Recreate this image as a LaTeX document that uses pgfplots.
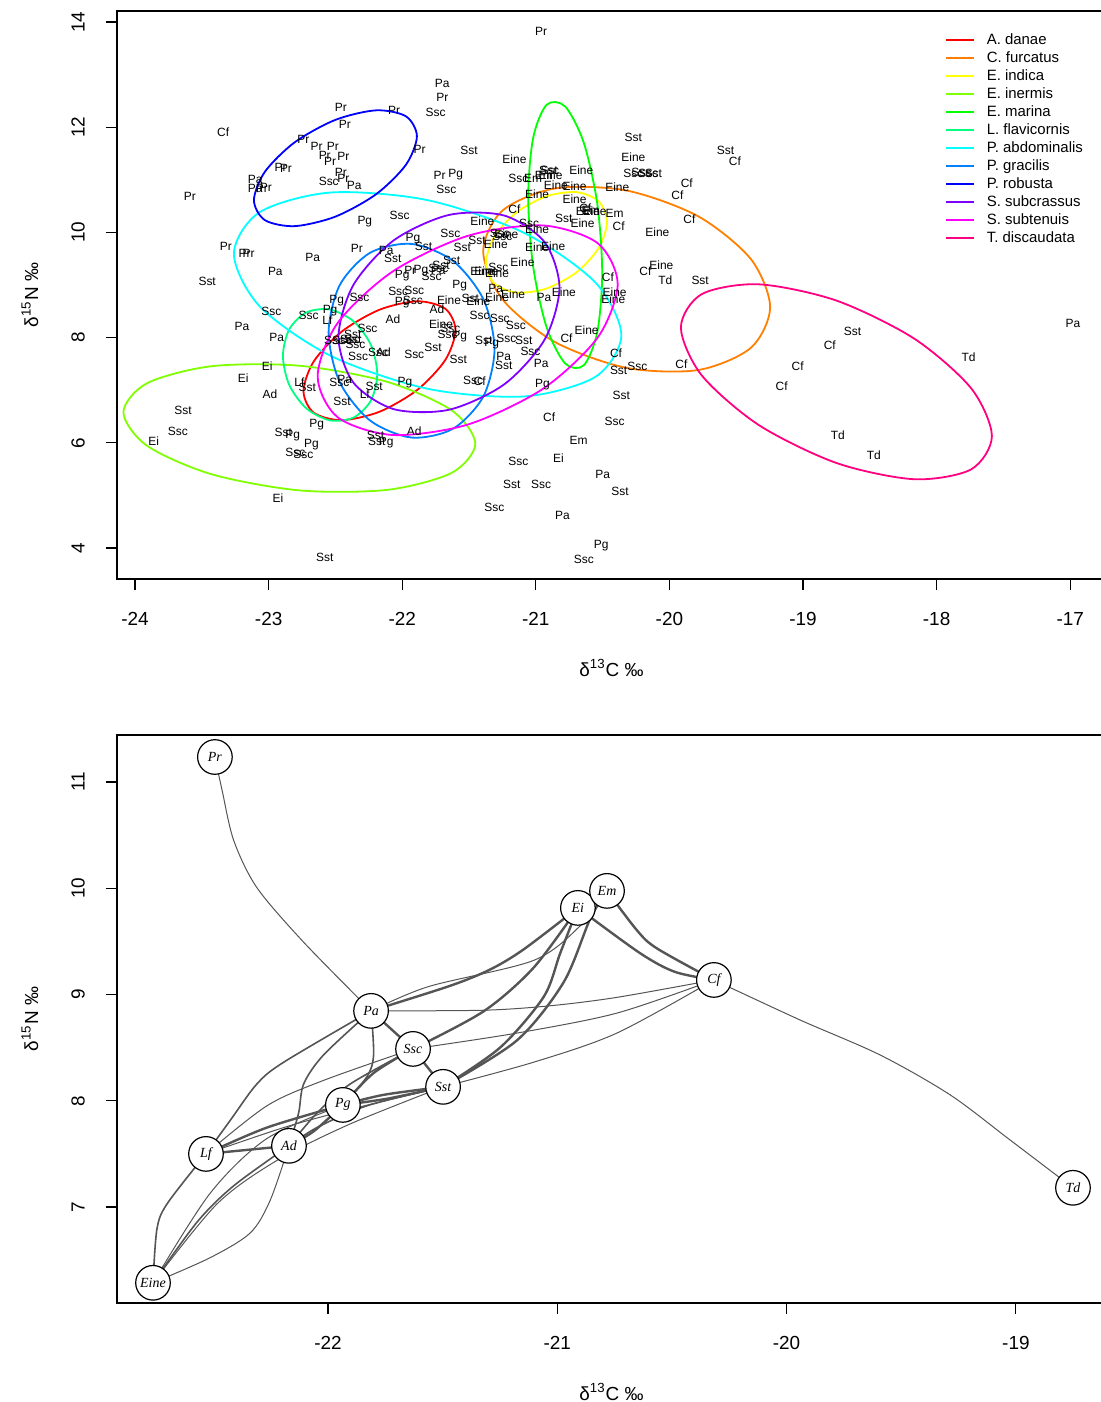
\documentclass[border=0pt]{standalone}
\usepackage{fontspec}
\setmainfont{Liberation Sans}
\newfontfamily\nodefont{Liberation Serif}
\usepackage{pgfplots}
\usepackage{pgfplotstable}
\pgfplotsset{compat=1.18}

\definecolor{cAd}{HTML}{FF0000}
\definecolor{cCf}{HTML}{FF8000}
\definecolor{cEind}{HTML}{FFFF00}
\definecolor{cEin}{HTML}{80FF00}
\definecolor{cEm}{HTML}{00FF00}
\definecolor{cLf}{HTML}{00FF80}
\definecolor{cPa}{HTML}{00FFFF}
\definecolor{cPg}{HTML}{0080FF}
\definecolor{cPr}{HTML}{0000FF}
\definecolor{cSsc}{HTML}{8000FF}
\definecolor{cSst}{HTML}{FF00FF}
\definecolor{cTd}{HTML}{FF0080}
\definecolor{edgec}{HTML}{555555}

\pgfplotstableread{
x y lab
-23.34 11.90 Cf
-22.46 12.37 Pr
-22.06 12.32 Pr
-22.43 12.06 Pr
-22.74 11.76 Pr
-22.64 11.64 Pr
-22.52 11.64 Pr
-22.58 11.47 Pr
-22.54 11.35 Pr
-22.44 11.44 Pr
-21.87 11.58 Pr
-22.91 11.23 Pr
-22.87 11.21 Pr
-22.46 11.15 Pr
-22.55 10.97 Ssc
-22.44 11.02 Pr
-22.36 10.90 Pa
-23.10 11.00 Pa
-23.10 10.83 Pa
-23.05 10.84 Pr
-23.02 10.85 Pr
-23.59 10.68 Pr
-21.70 12.83 Pa
-21.70 12.57 Pr
-21.75 12.28 Ssc
-21.72 11.09 Pr
-21.60 11.10 Pg
-21.67 10.81 Ssc
-20.96 13.82 Pr
-21.50 11.56 Sst
-21.16 11.40 Eine
-21.13 11.03 Ssc
-21.02 11.03 Em
-20.90 11.18 Sst
-20.90 11.17 Ssc
-20.94 11.09 Em
-20.89 11.09 Eine
-20.66 11.19 Eine
-20.27 11.81 Sst
-20.27 11.43 Eine
-20.27 11.13 Ssc
-20.21 11.15 Ssc
-20.16 11.13 Ssc
-20.12 11.13 Sst
-19.58 11.55 Sst
-19.51 11.36 Cf
-19.87 10.93 Cf
-19.94 10.71 Cf
-20.39 10.86 Eine
-20.85 10.89 Eine
-20.71 10.88 Eine
-20.99 10.73 Eine
-20.71 10.64 Eine
-21.16 10.44 Cf
-20.63 10.46 Cf
-20.61 10.41 Eine
-20.59 10.41 Em
-20.56 10.41 Eine
-20.41 10.37 Em
-20.79 10.27 Sst
-20.65 10.18 Eine
-20.38 10.12 Cf
-19.85 10.25 Cf
-20.09 10.01 Eine
-21.40 10.22 Eine
-21.05 10.17 Ssc
-20.99 10.06 Eine
-21.25 9.93 Ssc
-21.22 9.96 Eine
-21.27 9.99 Ssc
-21.44 9.85 Sst
-21.30 9.77 Eine
-21.64 9.99 Ssc
-21.55 9.71 Sst
-20.99 9.71 Eine
-20.87 9.73 Eine
-21.10 9.44 Eine
-21.63 9.46 Sst
-21.40 9.27 Eine
-21.37 9.27 Eine
-21.28 9.33 Ssc
-21.29 9.23 Eine
-20.46 9.14 Cf
-20.18 9.27 Cf
-20.06 9.37 Eine
-20.03 9.09 Td
-19.77 9.08 Sst
-21.57 8.99 Pg
-21.30 8.94 Pa
-21.17 8.83 Eine
-20.94 8.77 Pa
-20.79 8.87 Eine
-20.41 8.87 Eine
-20.42 8.73 Eine
-21.49 8.75 Sst
-21.43 8.70 Eine
-21.29 8.76 Eine
-21.65 8.71 Eine
-21.42 8.43 Ssc
-21.27 8.37 Ssc
-21.15 8.24 Ssc
-20.62 8.14 Eine
-20.77 7.98 Cf
-21.39 7.95 Sst
-21.33 7.88 Pg
-21.22 7.99 Ssc
-21.09 7.95 Sst
-21.64 8.18 Ssc
-21.57 8.01 Pg
-21.66 8.07 Ssc
-21.04 7.73 Ssc
-21.24 7.65 Pa
-21.24 7.47 Sst
-20.96 7.51 Pa
-20.40 7.70 Cf
-20.38 7.37 Sst
-20.24 7.46 Ssc
-19.91 7.49 Cf
-21.58 7.59 Sst
-21.47 7.19 Ssc
-21.42 7.17 Cf
-20.95 7.11 Pg
-20.36 6.90 Sst
-20.90 6.48 Cf
-20.41 6.40 Ssc
-20.68 6.05 Em
-20.83 5.70 Ei
-21.13 5.65 Ssc
-20.50 5.40 Pa
-21.18 5.21 Sst
-20.96 5.20 Ssc
-20.37 5.08 Sst
-21.31 4.78 Ssc
-20.80 4.61 Pa
-20.51 4.04 Pg
-20.64 3.79 Ssc
-22.99 6.93 Ad
-23.64 6.62 Sst
-23.68 6.22 Ssc
-23.86 6.03 Ei
-22.45 6.78 Sst
-22.28 6.92 Lf
-22.64 6.35 Pg
-22.89 6.19 Sst
-22.82 6.13 Pg
-22.68 5.97 Pg
-22.80 5.81 Ssc
-22.74 5.78 Ssc
-22.20 6.15 Sst
-22.19 6.02 Sst
-22.12 6.00 Pg
-21.91 6.22 Ad
-22.93 4.94 Ei
-22.58 3.83 Sst
-22.28 10.20 Pg
-22.02 10.33 Ssc
-23.32 9.73 Pr
-23.18 9.60 Pr
-23.15 9.60 Pr
-22.67 9.53 Pa
-22.95 9.25 Pa
-22.34 9.69 Pr
-22.12 9.66 Pa
-22.07 9.51 Sst
-21.92 9.88 Pg
-21.84 9.74 Sst
-23.46 9.06 Sst
-22.00 9.17 Pg
-21.94 9.27 Pr
-21.86 9.27 Pg
-21.78 9.17 Ssc
-21.73 9.27 Pa
-21.71 9.38 Sst
-21.73 9.32 Ssc
-22.03 8.87 Ssc
-21.91 8.90 Ssc
-22.00 8.66 Pg
-21.92 8.71 Ssc
-22.49 8.71 Pg
-22.32 8.76 Ssc
-22.54 8.51 Pg
-22.56 8.33 Lf
-22.98 8.49 Ssc
-22.70 8.43 Ssc
-22.07 8.35 Ad
-21.74 8.54 Ad
-21.71 8.25 Eine
-23.20 8.21 Pa
-22.94 8.00 Pa
-22.26 8.18 Ssc
-22.37 8.06 Sst
-22.37 7.97 Sst
-22.39 7.97 Ssc
-22.51 7.94 Ssc
-22.45 7.94 Ssc
-22.35 7.88 Ssc
-22.33 7.65 Ssc
-22.18 7.71 Ssc
-22.14 7.73 Ad
-21.91 7.69 Ssc
-21.77 7.82 Sst
-23.01 7.45 Ei
-23.19 7.23 Ei
-22.43 7.21 Pa
-22.47 7.14 Ssc
-22.77 7.16 Lf
-22.71 7.05 Sst
-22.21 7.08 Sst
-21.98 7.14 Pg
-18.63 8.11 Sst
-18.80 7.86 Cf
-19.04 7.46 Cf
-19.16 7.07 Cf
-17.76 7.63 Td
-18.74 6.15 Td
-18.47 5.77 Td
-16.98 8.26 Pa
}\toplabels

\pgfplotstableread{
x y lab
-22.493 11.235 Pr
-20.910 9.815 Ei
-20.783 9.975 Em
-20.317 9.137 Cf
-21.812 8.846 Pa
-21.629 8.488 Ssc
-21.498 8.131 Sst
-21.935 7.961 Pg
-22.532 7.500 Lf
-22.170 7.576 Ad
-22.763 6.287 Eine
-18.751 7.181 Td
}\netnodes

\pgfplotsset{
 rstyle/.style={
  scale only axis, width=494.5bp, height=284bp,
  axis line style={line width=0.6bp},
  tick pos=left, tick align=outside, major tick length=5.5bp,
  tick style={line width=0.6bp, black},
  /pgf/number format/assume math mode=true,
  ticklabel style={font=\fontsize{9.5}{11}\selectfont},
  xticklabel style={anchor=center, yshift=-14.5bp},
  yticklabel style={anchor=center, xshift=-14bp, rotate=90},
  label style={font=\fontsize{9.5}{11}\selectfont},
  xlabel style={at={(axis description cs:0.5,-0.1567)}, anchor=center},
  ylabel style={at={(axis description cs:-0.088,0.5)}, anchor=center},
 },
 ell/.style={line width=0.9bp, smooth cycle, mark=none},
 ethin/.style={edgec, line width=0.5bp, smooth, mark=none, forget plot},
 emed/.style={edgec, line width=0.8bp, smooth, mark=none, forget plot},
 ethick/.style={edgec, line width=1.2bp, smooth, mark=none, forget plot},
}

\begin{document}
\begin{tikzpicture}
\path[use as bounding box] (0,0) rectangle (550.5bp,701bp);

% ---------------- top panel ----------------
\begin{axis}[rstyle,
  at={(58.5bp,411.5bp)}, anchor=south west,
  xmin=-24.135, xmax=-16.732, ymin=3.41, ymax=14.21,
  xtick={-24,-23,-22,-21,-20,-19,-18,-17},
  ytick={4,6,8,10,12,14},
  xlabel={δ\textsuperscript{13}C ‰},
  ylabel={δ\textsuperscript{15}N ‰},
  legend style={at={(axis description cs:0.8372,0.9648)}, anchor=north west,
    draw=none, fill=none, inner sep=0pt, outer sep=0pt,
    font=\fontsize{7.5}{9}\selectfont, row sep=0pt,
    nodes={inner sep=0.6bp, text height=6.2bp, text depth=1.6bp},
    /tikz/every odd column/.append style={column sep=5bp}},
  legend cell align=left,
  legend image code/.code={\draw[#1, line width=1.3bp] (0bp,0bp) -- (14bp,0bp);},
]
\addplot[only marks, mark=none, forget plot, nodes near coords,
  point meta=explicit symbolic,
  nodes near coords style={anchor=center, inner sep=0pt, text=black,
    font=\fontsize{6}{7}\selectfont}]
  table[x=x, y=y, meta=lab] {\toplabels};

\addplot[ell, cAd] coordinates {(-21.601,8.140) (-21.677,8.547) (-21.885,8.690) (-22.170,8.530) (-22.455,8.110) (-22.663,7.543) (-22.739,6.980) (-22.663,6.573) (-22.455,6.430) (-22.170,6.590) (-21.885,7.010) (-21.677,7.577)};
\addlegendentry{A. danae}
\addplot[ell, cCf] coordinates {(-19.246,8.578) (-19.390,9.492) (-19.783,10.304) (-20.320,10.796) (-20.857,10.836) (-21.250,10.414) (-21.394,9.642) (-21.250,8.728) (-20.857,7.916) (-20.320,7.424) (-19.783,7.384) (-19.390,7.806)};
\addlegendentry{C. furcatus}
\addplot[ell, cEind] coordinates {(-20.467,10.200) (-20.528,10.587) (-20.693,10.765) (-20.920,10.687) (-21.147,10.375) (-21.312,9.911) (-21.373,9.420) (-21.312,9.033) (-21.147,8.855) (-20.920,8.933) (-20.693,9.245) (-20.528,9.709)};
\addlegendentry{E. indica}
\addplot[ell, cEin] coordinates {(-21.453,5.982) (-21.629,6.615) (-22.111,7.157) (-22.770,7.465) (-23.429,7.455) (-23.911,7.131) (-24.087,6.578) (-23.911,5.945) (-23.429,5.403) (-22.770,5.095) (-22.111,5.105) (-21.629,5.429)};
\addlegendentry{E. inermis}
\addplot[ell, cEm] coordinates {(-20.503,9.228) (-20.540,10.547) (-20.641,11.705) (-20.780,12.393) (-20.919,12.427) (-21.020,11.797) (-21.057,10.672) (-21.020,9.353) (-20.919,8.195) (-20.780,7.507) (-20.641,7.473) (-20.540,8.103)};
\addlegendentry{E. marina}
\addplot[ell, cLf] coordinates {(-22.187,7.309) (-22.234,7.859) (-22.363,8.307) (-22.540,8.534) (-22.717,8.479) (-22.846,8.155) (-22.893,7.651) (-22.846,7.101) (-22.717,6.653) (-22.540,6.426) (-22.363,6.481) (-22.234,6.805)};
\addlegendentry{L. flavicornis}
\addplot[ell, cPa] coordinates {(-20.360,8.048) (-20.554,9.048) (-21.085,9.987) (-21.810,10.613) (-22.535,10.759) (-23.066,10.386) (-23.260,9.592) (-23.066,8.592) (-22.535,7.653) (-21.810,7.027) (-21.085,6.881) (-20.554,7.254)};
\addlegendentry{P. abdominalis}
\addplot[ell, cPg] coordinates {(-21.309,7.784) (-21.392,8.726) (-21.619,9.456) (-21.930,9.781) (-22.241,9.612) (-22.468,8.996) (-22.551,8.096) (-22.468,7.154) (-22.241,6.424) (-21.930,6.099) (-21.619,6.268) (-21.392,6.884)};
\addlegendentry{P. gracilis}
\addplot[ell, cPr] coordinates {(-21.890,11.828) (-21.972,12.207) (-22.195,12.321) (-22.500,12.140) (-22.805,11.713) (-23.028,11.153) (-23.110,10.612) (-23.028,10.233) (-22.805,10.119) (-22.500,10.300) (-22.195,10.727) (-21.972,11.287)};
\addlegendentry{P. robusta}
\addplot[ell, cSsc] coordinates {(-20.823,8.951) (-20.934,9.814) (-21.236,10.320) (-21.650,10.332) (-22.064,9.848) (-22.366,8.998) (-22.477,8.009) (-22.366,7.146) (-22.064,6.640) (-21.650,6.628) (-21.236,7.112) (-20.934,7.962)};
\addlegendentry{S. subcrassus}
\addplot[ell, cSst] coordinates {(-20.387,9.015) (-20.537,9.795) (-20.948,10.132) (-21.510,9.934) (-22.072,9.256) (-22.483,8.279) (-22.633,7.265) (-22.483,6.485) (-22.072,6.148) (-21.510,6.346) (-20.948,7.024) (-20.537,8.001)};
\addlegendentry{S. subtenuis}
\addplot[ell, cTd] coordinates {(-17.586,6.128) (-17.742,7.038) (-18.168,7.981) (-18.750,8.704) (-19.332,9.013) (-19.758,8.826) (-19.914,8.192) (-19.758,7.282) (-19.332,6.339) (-18.750,5.616) (-18.168,5.307) (-17.742,5.494)};
\addlegendentry{T. discaudata}
\end{axis}

% ---------------- bottom panel ----------------
\begin{axis}[rstyle,
  at={(58.5bp,49.5bp)}, anchor=south west,
  xmin=-22.920, xmax=-18.607, ymin=6.097, ymax=11.442,
  xtick={-22,-21,-20,-19},
  ytick={7,8,9,10,11},
  xlabel={δ\textsuperscript{13}C ‰},
  ylabel={δ\textsuperscript{15}N ‰},
]
% edges
\addplot[ethin] coordinates {(-22.493,11.235) (-22.462,10.925) (-22.411,10.450) (-22.310,10.006) (-22.106,9.492) (-21.812,8.846)};
\addplot[ethick] coordinates {(-21.812,8.846) (-21.467,9.082) (-21.292,9.236) (-21.147,9.424) (-20.910,9.815)};
\addplot[ethin] coordinates {(-21.812,8.846) (-21.321,8.852) (-21.031,8.894) (-20.740,8.973) (-20.317,9.137)};
\addplot[ethin] coordinates {(-21.629,8.488) (-21.176,8.637) (-20.740,8.825) (-20.317,9.137)};
\addplot[ethin] coordinates {(-21.498,8.131) (-21.103,8.363) (-20.740,8.637) (-20.317,9.137)};
\addplot[ethick] coordinates {(-21.629,8.488) (-21.321,8.842) (-21.103,9.253) (-20.910,9.815)};
\addplot[ethick] coordinates {(-21.498,8.131) (-21.249,8.501) (-21.059,8.979) (-20.987,9.390) (-20.910,9.815)};
\addplot[ethick] coordinates {(-21.498,8.131) (-21.176,8.568) (-20.972,9.116) (-20.856,9.715) (-20.783,9.975)};
\addplot[ethin] coordinates {(-21.812,8.846) (-21.564,9.073) (-21.103,9.321) (-20.900,9.646) (-20.783,9.975)};
\addplot[ethick] coordinates {(-21.812,8.846) (-21.629,8.488)};
\addplot[ethick] coordinates {(-21.629,8.488) (-21.498,8.131)};
\addplot[emed] coordinates {(-21.812,8.846) (-21.801,8.432) (-21.830,8.227) (-21.935,7.961)};
\addplot[emed] coordinates {(-21.812,8.846) (-22.019,8.432) (-22.106,8.158) (-22.128,7.884) (-22.170,7.576)};
\addplot[emed] coordinates {(-21.812,8.846) (-22.193,8.363) (-22.310,8.158) (-22.426,7.816) (-22.532,7.500)};
\addplot[ethick] coordinates {(-21.629,8.488) (-21.801,8.261) (-21.935,7.961)};
\addplot[emed] coordinates {(-21.629,8.488) (-21.903,8.158) (-22.048,7.884) (-22.170,7.576)};
\addplot[ethin] coordinates {(-21.629,8.488) (-22.019,8.192) (-22.266,7.953) (-22.532,7.500)};
\addplot[ethick] coordinates {(-21.498,8.131) (-21.757,8.056) (-21.935,7.961)};
\addplot[ethick] coordinates {(-21.498,8.131) (-21.740,8.020) (-21.935,7.961)};
\addplot[emed] coordinates {(-21.498,8.131) (-21.830,7.953) (-22.048,7.748) (-22.170,7.576)};
\addplot[ethin] coordinates {(-21.498,8.131) (-21.903,7.919) (-22.193,7.748) (-22.532,7.500)};
\addplot[ethin] coordinates {(-21.498,8.131) (-21.903,7.782) (-22.222,7.439) (-22.484,7.029) (-22.763,6.287)};
\addplot[ethick] coordinates {(-21.935,7.961) (-22.266,7.748) (-22.532,7.500)};
\addplot[ethick] coordinates {(-21.935,7.961) (-22.062,7.713) (-22.170,7.576)};
\addplot[ethick] coordinates {(-22.532,7.500) (-22.170,7.576)};
\addplot[emed] coordinates {(-22.532,7.500) (-22.702,7.029) (-22.746,6.790) (-22.763,6.287)};
\addplot[ethin] coordinates {(-22.170,7.576) (-22.252,7.063) (-22.339,6.756) (-22.515,6.522) (-22.763,6.287)};
\addplot[ethin] coordinates {(-21.935,7.961) (-22.266,7.645) (-22.513,7.132) (-22.763,6.287)};
\addplot[emed] coordinates {(-22.170,7.576) (-22.411,7.200) (-22.571,6.858) (-22.763,6.287)};
\addplot[ethick] coordinates {(-20.910,9.815) (-20.639,9.389) (-20.487,9.213) (-20.317,9.137)};
\addplot[ethick] coordinates {(-20.783,9.975) (-20.654,9.608) (-20.567,9.436) (-20.317,9.137)};
\addplot[ethin] coordinates {(-20.317,9.137) (-19.942,8.761) (-19.593,8.432) (-19.287,8.056) (-19.026,7.632) (-18.751,7.181)};
% nodes
\addplot[only marks, mark=*, mark size=8.65bp,
  mark options={draw=black, fill=white, line width=0.6bp},
  nodes near coords, point meta=explicit symbolic,
  nodes near coords style={anchor=center, text=black,
    font=\nodefont\itshape\fontsize{7}{8}\selectfont}]
  table[x=x, y=y, meta=lab] {\netnodes};
\end{axis}
\end{tikzpicture}
\end{document}
